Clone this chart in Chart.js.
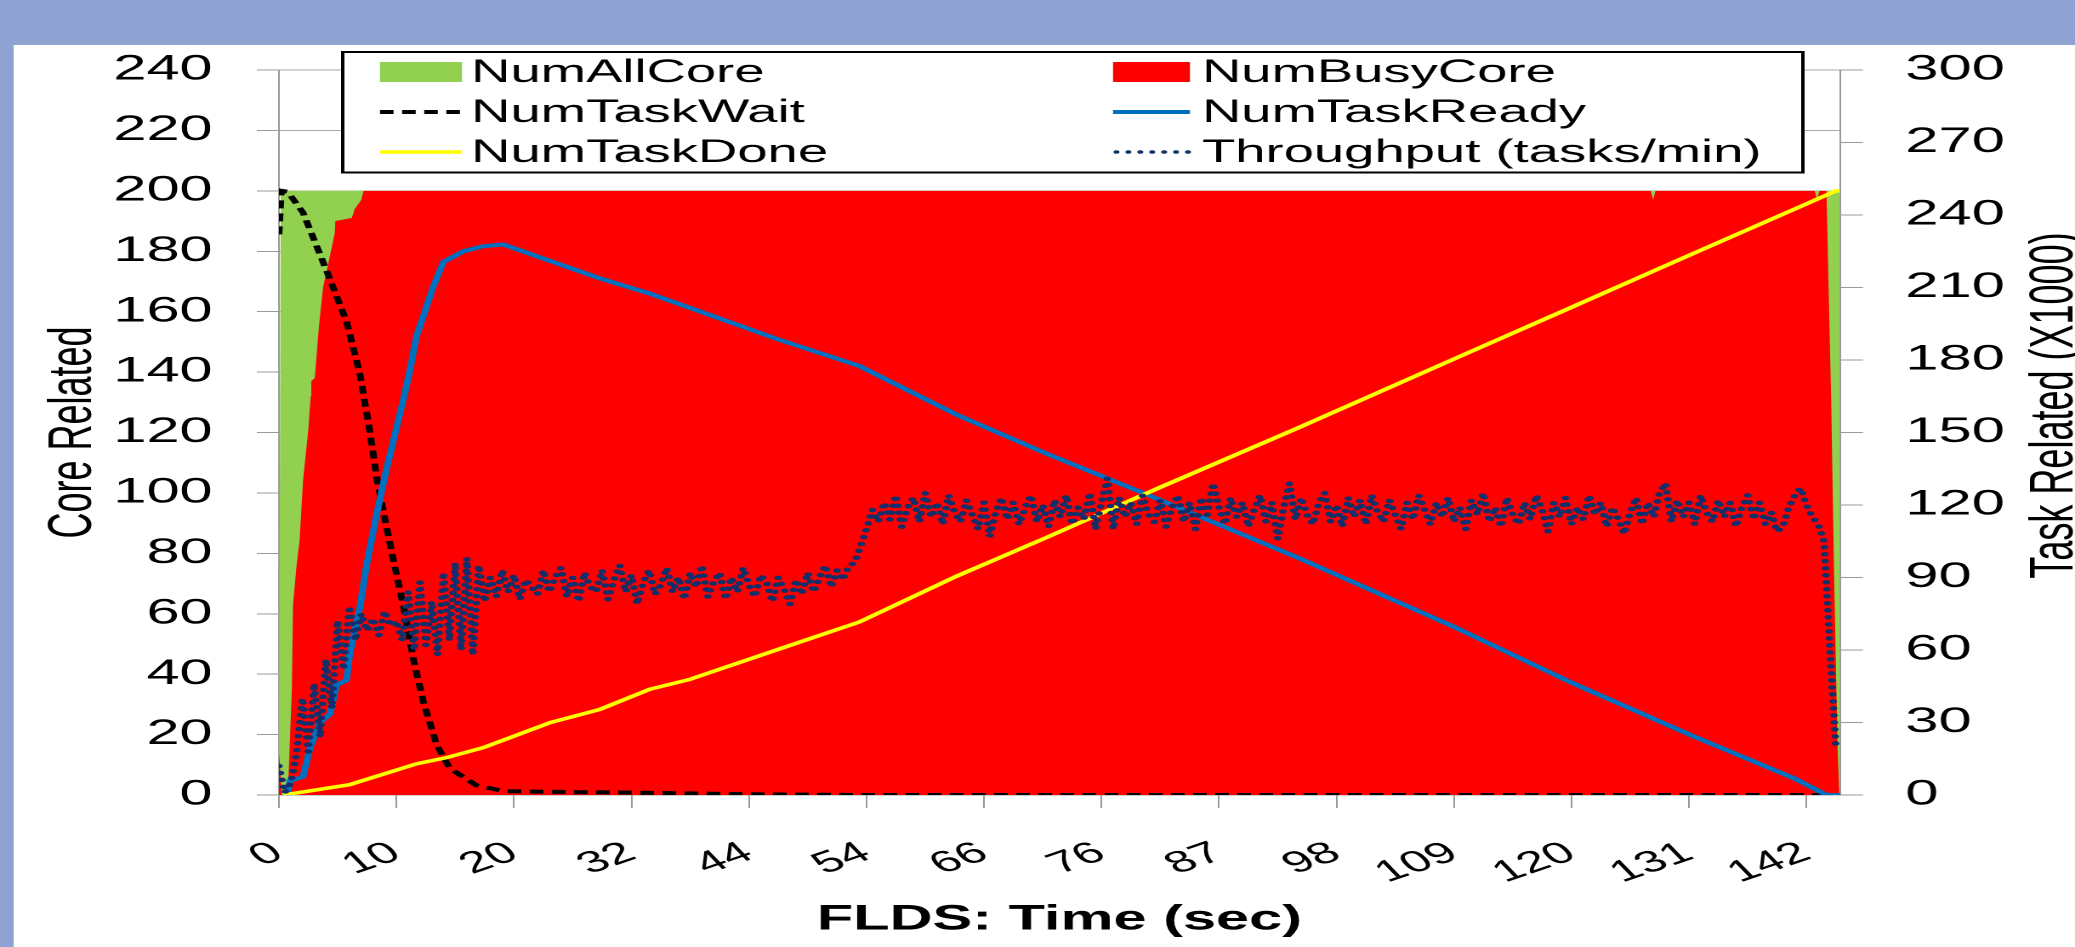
<!DOCTYPE html>
<html>
<head>
<meta charset="utf-8">
<script src="https://cdn.jsdelivr.net/npm/chart.js@4.4.1/dist/chart.umd.min.js"></script>
<style>
html, body { margin: 0; padding: 0; width: 2075px; height: 947px; overflow: hidden; background: #8fa3d3; }
#wrap { position: absolute; left: 0; top: 0; width: 1220px; height: 947px; transform: scaleX(1.70082); transform-origin: 0 0; }
</style>
</head>
<body>
<div id="wrap"><canvas id="c"></canvas></div>
<script>
// ---------- data (x = sample index, 20 samples per labelled tick) ----------
const xTickLabels = ['0','10','20','32','44','54','66','76','87','98','109','120','131','142'];
const samplesPerTick = 20;
const lastSample = 265.7;

// Core related (left axis)
const allCoreX = [0, 0.3, 265.7];
const allCoreY = [0, 200, 200];

const busyCoreX = [0, 0.2, 0.5, 1.5, 2.2, 2.4, 3.0, 3.5, 4.1, 5.0, 5.4, 5.5, 6.1, 6.8, 7.5, 8.4, 9.5, 9.6, 12.4, 12.9, 14.0, 14.4, 233.5, 233.9, 234.3, 261.4, 261.8, 262.2, 263.4, 264.2, 264.7, 265.3, 265.6];
const busyCoreY = [14, 14, 0, 0, 35, 63, 76, 84, 104, 121, 132, 137, 138, 155, 168, 176, 186, 190, 191, 194, 197, 200, 200, 197, 200, 200, 197, 200, 200, 131, 73, 15, 0];

// Task related (right axis, x1000)
const taskWaitX = [0, 0.4, 1.5, 4.1, 8.1, 11.5, 13.8, 15.5, 16.6, 17.8, 19.5, 21.2, 22.9, 24.6, 26.8, 29.1, 33.6, 38.2, 50, 60, 80, 100, 265.7];
const taskWaitY = [232, 250, 249.6, 241, 217, 196, 174, 150, 132, 117, 97, 78, 56, 38.5, 21, 11, 4, 1.6, 1.2, 1.0, 0.3, 0, 0];

const taskReadyX = [1.4, 1.9, 4.1, 5.3, 7.0, 8.7, 9.8, 11.5, 12.0, 13.8, 14.9, 16.6, 18.3, 19.5, 21.2, 22.3, 23.4, 24.6, 26.2, 28.0, 31.4, 34.8, 38.2, 54.6, 63.1, 85.0, 98.8, 115.4, 130.6, 149.6, 173.8, 200, 220, 240.2, 258, 263.4, 265.7];
const taskReadyY = [0, 5.9, 7.5, 19.6, 30, 33.5, 45.5, 47.5, 57.5, 78, 95, 115.9, 134.8, 146.8, 163.8, 175.9, 189.8, 198.3, 210, 220.6, 225, 227.1, 227.8, 213.8, 207.5, 188.5, 177.5, 157.3, 141.3, 122.5, 97.8, 69.6, 46.5, 24.9, 6.8, 0, 0];

const taskDoneX = [0.8, 12, 23.4, 28.4, 34.8, 46.2, 54.6, 63.1, 69.8, 87.4, 98.8, 115.4, 130.6, 149.6, 173.8, 200, 220, 240, 260, 265, 265.7];
const taskDoneY = [0, 4.25, 12.9, 15.4, 19.6, 30, 35.4, 43.75, 47.75, 62.25, 71.6, 90.6, 106.5, 126.9, 152.25, 180.4, 201.8, 223.3, 244.6, 250, 250];

// Throughput (tasks/min, x1000), one value per sample
const throughput = [
  12, 1, 5, 17, 40, 18, 46, 24, 56, 36,
  72, 52, 78, 64, 75, 68, 73, 66, 76, 70,
  72, 64, 84, 60, 88, 62, 80, 58, 92, 64,
  96, 60, 98, 58, 95, 80, 90, 82, 93, 84,
  91, 81, 89, 86, 83, 93, 84, 90, 94, 82,
  90, 80, 92, 86, 84, 93, 81, 89, 95, 84,
  91, 79, 88, 93, 83, 87, 94, 84, 90, 81,
  92, 86, 95, 82, 88, 92, 81, 90, 84, 94,
  87, 82, 91, 88, 80, 90, 85, 79, 89, 83,
  92, 84, 90, 95, 86, 93, 89, 95, 96, 103,
  110, 118, 113, 121, 114, 124, 111, 119, 123, 113,
  125, 115, 121, 112, 124, 117, 113, 122, 116, 110,
  121, 107, 117, 123, 114, 121, 112, 119, 124, 113,
  120, 111, 122, 115, 124, 112, 119, 114, 125, 110,
  121, 131, 110, 123, 115, 121, 112, 124, 116, 113,
  122, 111, 119, 124, 113, 121, 110, 123, 116, 129,
  119, 112, 123, 115, 121, 111, 118, 124, 113, 121,
  106, 119, 129, 114, 123, 116, 112, 121, 125, 113,
  120, 111, 123, 115, 122, 112, 124, 117, 113, 122,
  116, 110, 121, 114, 124, 118, 112, 121, 115, 123,
  113, 119, 110, 122, 116, 125, 113, 119, 111, 123,
  116, 112, 121, 114, 124, 118, 109, 121, 115, 123,
  112, 119, 114, 124, 116, 121, 111, 119, 114, 108,
  117, 123, 112, 121, 115, 125, 129, 113, 122, 115,
  121, 112, 124, 117, 113, 122, 115, 121, 111, 119,
  124, 114, 121, 112, 117, 109, 111, 119, 124, 127,
  120, 115, 112, 105, 60, 20
];

// ---------- helpers ----------
const pts = (xs, ys) => xs.map((x, i) => ({ x: x, y: ys[i] }));
const FONT = "'Liberation Sans', Arial, Helvetica, sans-serif";
Chart.defaults.font.family = FONT;
Chart.defaults.color = '#000';

const COLORS = {
  all: '#92d050', busy: '#ff0000', wait: '#000000', ready: '#0070c0', done: '#ffff00', tp: '#102f6b'
};

const bgPlugin = {
  id: 'bg',
  beforeDraw(chart) {
    const { ctx, width, height } = chart;
    ctx.save();
    ctx.fillStyle = '#8fa3d3';
    ctx.fillRect(0, 0, width, height);
    ctx.fillStyle = '#ffffff';
    ctx.fillRect(8, 45, width - 8, height - 45);
    ctx.restore();
  }
};

const legendPlugin = {
  id: 'customLegend',
  afterDraw(chart) {
    const { ctx } = chart;
    const ds = chart.data.datasets;
    ctx.save();
    ctx.fillStyle = '#fff';
    ctx.fillRect(201.5, 52, 858.5, 120.5);
    ctx.strokeStyle = '#000';
    ctx.lineWidth = 2;
    ctx.strokeRect(201.5, 52, 858.5, 120.5);
    const cols = [{ s: 223.4, e: 271.6, t: 277 }, { s: 654.4, e: 699.6, t: 706.7 }];
    const rows = [72, 112, 152];
    const items = [
      { i: 0, c: 0, r: 0, kind: 'box' },
      { i: 1, c: 1, r: 0, kind: 'box' },
      { i: 2, c: 0, r: 1, kind: 'line', w: 4, dash: [8, 5] },
      { i: 3, c: 1, r: 1, kind: 'line', w: 4, dash: [] },
      { i: 4, c: 0, r: 2, kind: 'line', w: 3.5, dash: [] },
      { i: 5, c: 1, r: 2, kind: 'dot', w: 3.5, dash: [0.01, 7] }
    ];
    ctx.font = '32px ' + FONT;
    ctx.textBaseline = 'alphabetic';
    ctx.textAlign = 'left';
    items.forEach(it => {
      const col = cols[it.c];
      const y = rows[it.r];
      const d = ds[it.i];
      if (it.kind === 'box') {
        ctx.fillStyle = d.backgroundColor;
        ctx.fillRect(col.s, y - 10, col.e - col.s, 20);
      } else {
        ctx.beginPath();
        ctx.strokeStyle = d.borderColor;
        ctx.lineWidth = it.w;
        ctx.setLineDash(it.dash);
        ctx.lineCap = it.kind === 'dot' ? 'round' : 'butt';
        ctx.moveTo(col.s + (it.kind === 'dot' ? 2 : 0), y);
        ctx.lineTo(col.e, y);
        ctx.stroke();
        ctx.setLineDash([]);
      }
      ctx.fillStyle = '#000';
      ctx.fillText(d.label, col.t, y + 10);
    });
    ctx.restore();
  }
};

const rightTitlePlugin = {
  id: 'rightTitle',
  afterDraw(chart) {
    const { ctx, chartArea } = chart;
    ctx.save();
    ctx.translate(chartArea.right + 127, (chartArea.top + chartArea.bottom) / 2 - 27);
    ctx.rotate(-Math.PI / 2);
    ctx.font = '36px ' + FONT;
    ctx.fillStyle = '#000';
    ctx.textAlign = 'center';
    ctx.textBaseline = 'middle';
    ctx.fillText('Task Related (X1000)', 0, 0);
    ctx.restore();
  }
};

new Chart(document.getElementById('c'), {
  type: 'line',
  data: {
    datasets: [
      { label: 'NumAllCore', data: pts(allCoreX, allCoreY), yAxisID: 'y', fill: 'origin',
        backgroundColor: COLORS.all, borderColor: COLORS.all, borderWidth: 0, pointRadius: 0, order: 6 },
      { label: 'NumBusyCore', data: pts(busyCoreX, busyCoreY), yAxisID: 'y', fill: 'origin',
        backgroundColor: COLORS.busy, borderColor: COLORS.busy, borderWidth: 0, pointRadius: 0, order: 5 },
      { label: 'NumTaskWait', data: pts(taskWaitX, taskWaitY), yAxisID: 'y1', fill: false,
        borderColor: COLORS.wait, backgroundColor: COLORS.wait, borderWidth: 4, borderDash: [8, 5], pointRadius: 0, order: 4 },
      { label: 'NumTaskReady', data: pts(taskReadyX, taskReadyY), yAxisID: 'y1', fill: false,
        borderColor: COLORS.ready, backgroundColor: COLORS.ready, borderWidth: 4, pointRadius: 0, order: 3 },
      { label: 'NumTaskDone', data: pts(taskDoneX, taskDoneY), yAxisID: 'y1', fill: false,
        borderColor: COLORS.done, backgroundColor: COLORS.done, borderWidth: 3.5, pointRadius: 0, order: 2 },
      { label: 'Throughput (tasks/min)', data: throughput.map((v, i) => ({ x: i, y: v })), yAxisID: 'y1', fill: false,
        borderColor: COLORS.tp, backgroundColor: COLORS.tp, borderWidth: 4.5, borderDash: [0.01, 7], borderCapStyle: 'round',
        pointRadius: 0, order: 1 }
    ]
  },
  options: {
    responsive: true,
    maintainAspectRatio: false,
    animation: false,
    devicePixelRatio: 2,
    layout: { padding: { top: 70, left: 0, right: 0, bottom: 0 } },
    plugins: { legend: { display: false }, tooltip: { enabled: false } },
    elements: { line: { tension: 0 }, point: { radius: 0 } },
    scales: {
      x: {
        type: 'linear', min: 0, max: lastSample,
        ticks: {
          stepSize: samplesPerTick, includeBounds: false, autoSkip: false,
          minRotation: 30, maxRotation: 30, padding: 27, color: '#000',
          font: { size: 30 },
          callback: v => { const k = Math.round(v / samplesPerTick); return xTickLabels[k] !== undefined ? xTickLabels[k] : ''; }
        },
        grid: { drawOnChartArea: false, drawTicks: true, tickLength: 13, color: '#9a9a9a', tickWidth: 1 },
        border: { display: true, color: '#9a9a9a', width: 1 },
        title: { display: true, text: 'FLDS: Time (sec)', color: '#000', font: { size: 35, weight: 'bold' }, padding: { top: 0, bottom: 6 } },
        afterFit: s => { s.height = 152; }
      },
      y: {
        position: 'left', min: 0, max: 240,
        ticks: { stepSize: 20, padding: 26, color: '#000', font: { size: 35 } },
        grid: { color: '#a8a8a8', tickLength: 13, tickColor: '#9a9a9a' },
        border: { display: true, color: '#9a9a9a', width: 1 },
        title: { display: true, text: 'Core Related', color: '#000', font: { size: 36 }, padding: { top: 22, bottom: 0 } },
        afterFit: s => { s.width = 164; }
      },
      y1: {
        position: 'right', min: 0, max: 300,
        ticks: { stepSize: 30, padding: 25, color: '#000', font: { size: 35 } },
        grid: { drawOnChartArea: false, tickLength: 13.5, color: '#9a9a9a' },
        border: { display: true, color: '#9a9a9a', width: 1 },
        afterFit: s => { s.width = 138.2; }
      }
    }
  },
  plugins: [bgPlugin, legendPlugin, rightTitlePlugin]
});
</script>
</body>
</html>
